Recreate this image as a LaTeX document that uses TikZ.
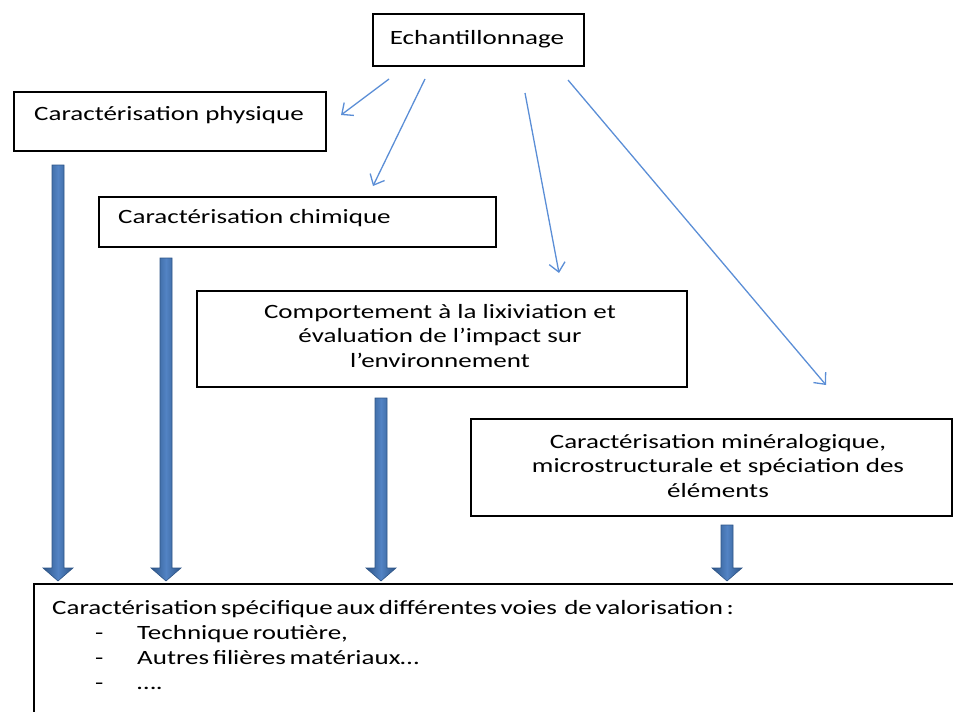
\documentclass[tikz,border=0pt]{standalone}
\usepackage{fontspec}
\setmainfont{Carlito}[FakeStretch=1.33]
\newfontfamily\listfont{Carlito}[FakeStretch=1.33, WordSpace=0.6]
\usetikzlibrary{arrows.meta,calc}
\definecolor{feedline}{HTML}{5B8ED6}
\definecolor{flowfill}{HTML}{5283C4}
\definecolor{flowedge}{HTML}{2E5587}

% thick block arrow from a top point down to a tip point
\newcommand\flowarrow[2]{%
  \path[shade, left color=flowedge, right color=flowedge, middle color=flowfill,
        draw=flowedge, line width=0.6pt]
    let \p1=(#1), \p2=(#2) in
    (\x1-6pt,\y1) -- (\x1+6pt,\y1) -- (\x1+6pt,\y2+13pt) -- (\x1+15pt,\y2+13pt)
    -- (\x2,\y2) -- (\x1-15pt,\y2+13pt) -- (\x1-6pt,\y2+13pt) -- cycle;}

\begin{document}
\begin{tikzpicture}[x=1pt,y=-1pt,
  box/.style={draw=black, line width=2pt, anchor=north west, inner sep=0pt},
  txt/.style={inner sep=0pt, font=\fontsize{20.3}{24.5}\selectfont, text=black},
  listtxt/.style={inner sep=0pt, font=\listfont\fontsize{20.3}{25}\selectfont, text=black,
                  anchor=west, text height=14pt, text depth=4pt},
  feed/.style={draw=feedline, line width=1.3pt, -{Straight Barb[length=9pt,width=16pt]}},
]
\useasboundingbox (0,0) rectangle (953,712);

% boxes
\node[box, minimum width=211pt, minimum height=52pt] (ech)   at (372,13)  {};
\node[box, minimum width=312pt, minimum height=59pt] (phys)  at (13,91)   {};
\node[box, minimum width=397pt, minimum height=50pt] (chim)  at (98,196)  {};
\node[box, minimum width=490pt, minimum height=96pt] (comp)  at (196,290) {};
\node[box, minimum width=481pt, minimum height=97pt] (miner) at (470,418) {};
\node[box, minimum width=1000pt, minimum height=200pt] (final) at (33,583) {};

% box texts
\node[txt] (echT) at (477,39) {Echantillonnage};
\node[txt, anchor=west] (physT) at (34,115) {Caractérisation physique};
\node[txt, anchor=west] (chimT) at (118,218) {Caractérisation chimique};
\node[txt, align=center] (compT) at (440,336)
  {Comportement à la lixiviation et\\évaluation de l’impact sur\\l’environnement};
\node[txt, align=center] (minerT) at (718,466)
  {Caractérisation minéralogique,\\microstructurale et spéciation des\\éléments};

% final box text
\node[listtxt] (finT) at (52,609) {Caractérisation spécifique aux différentes voies\ \ de valorisation :};
\node[listtxt] (d1) at (95,634) {-};
\node[listtxt] (d2) at (95,659) {-};
\node[listtxt] (d3) at (95,684) {-};
\node[listtxt] (i1) at (137,634) {Technique routière,};
\node[listtxt] (i2) at (137,659) {Autres filières matériaux…};
\node[listtxt] (i3) at (137,684) {….};

% thin arrows out of the sampling box
\coordinate (s1) at (389,79);  \coordinate (e1) at (341,115);
\coordinate (s2) at (425,79);  \coordinate (e2) at (373,186);
\coordinate (s3) at (525,93);  \coordinate (e3) at (559,273);
\coordinate (s4) at (568,80);  \coordinate (e4) at (826,385);
\draw[feed] (s1) -- (e1);
\draw[feed] (s2) -- (e2);
\draw[feed] (s3) -- (e3);
\draw[feed] (s4) -- (e4);

% block arrows into the final box
\coordinate (b1) at (58,165);  \coordinate (t1) at (58,581);
\coordinate (b2) at (166,258); \coordinate (t2) at (166,581);
\coordinate (b3) at (381,398); \coordinate (t3) at (381,581);
\coordinate (b4) at (727,525); \coordinate (t4) at (727,581);
\flowarrow{b1}{t1}
\flowarrow{b2}{t2}
\flowarrow{b3}{t3}
\flowarrow{b4}{t4}
\end{tikzpicture}
\end{document}
